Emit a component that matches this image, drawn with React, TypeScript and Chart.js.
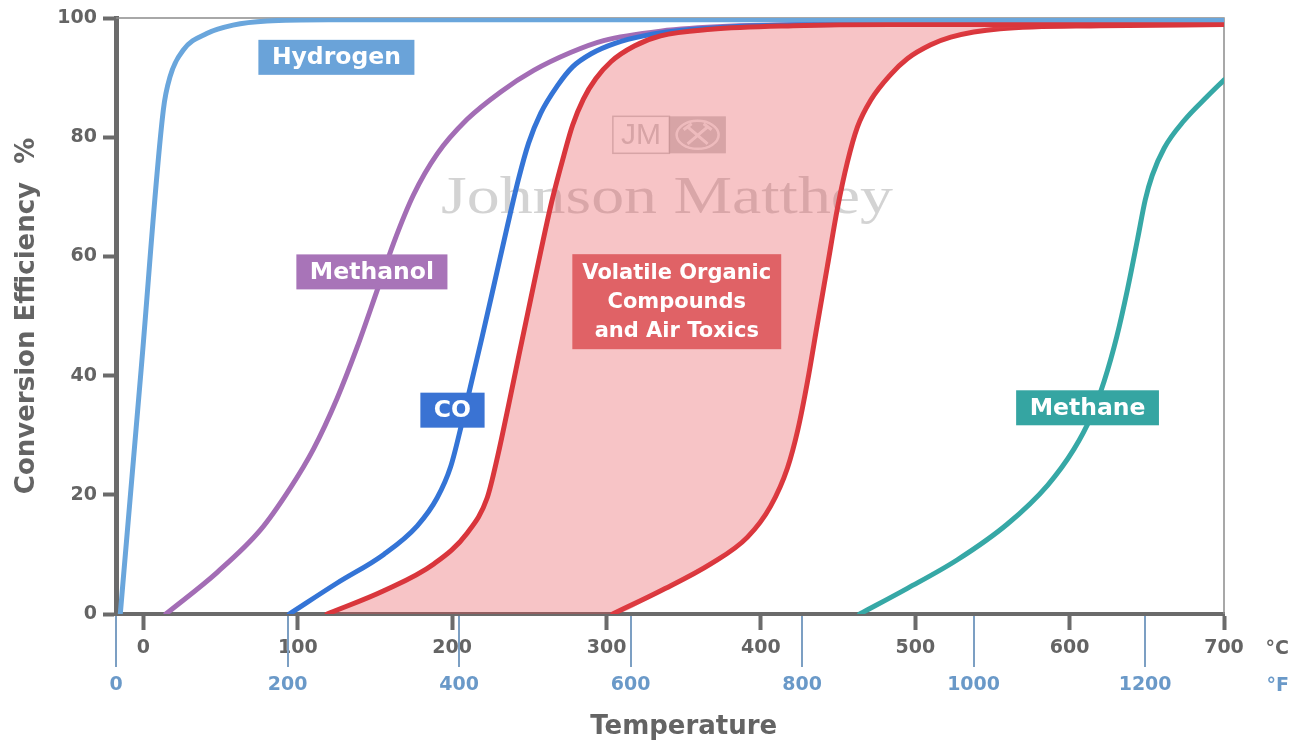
import React, { useEffect, useRef } from 'react';
import { Chart, registerables } from 'chart.js';

Chart.register(...registerables);

// ---------- axis ticks ----------
const C_TICKS = [0, 100, 200, 300, 400, 500, 600, 700];
const F_TICKS = [0, 200, 400, 600, 800, 1000, 1200];
const Y_TICKS = [0, 20, 40, 60, 80, 100];
const X_MIN_C = ((0 - 32) * 5) / 9; // 0 °F
const X_MAX_C = 700;
const F_MAX = (X_MAX_C * 9) / 5 + 32;

// ---------- series (temperature °C, conversion %) ----------
const HYDROGEN_T = [-15, -1.5, 12.9, 17.3, 25.7, 41, 58, 80, 120, 300, 500, 700];
const HYDROGEN_E = [0, 41, 84.6, 90.2, 94.6, 97.4, 98.8, 99.5, 99.7, 99.7, 99.7, 99.7];

const METHANOL_T = [14.5, 47.8, 75.8, 95.3, 110.2, 125.5, 138.5, 151, 162, 174.9, 190.3, 209.7, 231.4, 252.8, 276.7, 298.1, 335, 378.5, 450, 700];
const METHANOL_E = [0, 7.0, 14.1, 21.2, 27.7, 36.2, 44.8, 54.0, 62.2, 70.3, 77.2, 83.0, 87.6, 91.2, 94.2, 96.2, 97.8, 98.6, 98.9, 98.9];

const CO_T = [94.5, 125.5, 155.7, 177.4, 190.3, 199, 206, 212.5, 219.5, 227, 235.5, 243, 249.5, 257.3, 268.1, 278, 290, 305, 324, 356.4, 450, 700];
const CO_E = [0, 5.2, 10.0, 14.8, 19.5, 24.7, 31.7, 38.9, 46.6, 55.1, 64.8, 73.0, 79.0, 84.0, 88.6, 91.8, 94.0, 95.7, 97.0, 98.1, 98.9, 98.9];

const VOC_LOW_T = [119, 155.7, 188.1, 209.8, 222.7, 229.5, 236.5, 243.3, 251, 257.5, 264.5, 272.4, 278, 285, 293, 303, 318, 335, 367.5, 421, 484, 700];
const VOC_LOW_E = [0, 3.9, 8.4, 13.6, 19.5, 26.5, 35.0, 43.5, 53.0, 61.0, 69.2, 77.0, 82.0, 86.4, 89.8, 92.7, 95.3, 97.0, 98.1, 98.7, 98.9, 98.9];

const VOC_HIGH_T = [304, 335.1, 367.5, 391.3, 406.3, 417.2, 424, 430.1, 436.6, 443.1, 449.6, 456, 462.5, 471.1, 484, 495, 510, 523, 555, 620, 700];
const VOC_HIGH_E = [0, 3.9, 8.4, 12.9, 18.1, 24.5, 31.0, 38.9, 48.7, 58.4, 68.1, 75.8, 81.7, 86.2, 90.5, 93.2, 95.5, 96.8, 98.2, 98.7, 98.9];

const METHANE_T = [464, 494.9, 527.3, 559.7, 585.7, 602.9, 613.7, 622.4, 630.5, 637.5, 644, 649, 653.5, 661.3, 674.2, 689.4, 700];
const METHANE_E = [0, 4.3, 9.1, 15.1, 21.6, 27.7, 33.0, 39.1, 46.5, 54.5, 62.9, 69.5, 73.6, 78.2, 82.8, 86.9, 89.6];

// ---------- annotation labels ----------
const LABEL_TEXTS = ['Hydrogen', 'Methanol', 'CO', 'Volatile Organic\nCompounds\nand Air Toxics', 'Methane'];
const LABEL_T = [125, 148, 200.2, 345.5, 611.6];
const LABEL_E = [93.4, 57.4, 34.2, 52.4, 34.6];
const LABEL_COLORS = ['#6aa3d9', '#a874b8', '#3a73d3', '#e06266', '#35a5a2'];
const LABEL_SIZES = [23.5, 23.5, 23.5, 21, 23.5];

const WATERMARK = 'Johnson Matthey';
const WATERMARK_AT = [339.2, 67.3];
const LOGO_AT = [340.7, 80.4];

// ---------- styles ----------
const FONT = '"DejaVu Sans", "Liberation Sans", sans-serif';
const AXIS = '#6b6b6b';
const AXIS_TEXT = '#646464';
const F_COLOR = '#6a99c8';
const F_LINE = '#7c9fc3';

const pts = (xs: number[], ys: number[]) => xs.map((x, i) => ({ x, y: ys[i] }));

const decorPlugin = {
  id: 'decor',
  beforeDatasetsDraw(chart: any) {
    const { ctx, chartArea, scales } = chart;
    const { x, y } = scales;
    ctx.save();
    // thin frame top/right
    ctx.strokeStyle = '#8c8c8c';
    ctx.lineWidth = 1.5;
    ctx.beginPath();
    ctx.moveTo(chartArea.left, chartArea.top);
    ctx.lineTo(chartArea.right, chartArea.top);
    ctx.lineTo(chartArea.right, chartArea.bottom);
    ctx.stroke();

    // watermark text
    const wx = x.getPixelForValue(WATERMARK_AT[0]);
    const wy = y.getPixelForValue(WATERMARK_AT[1]);
    ctx.font = '53px "Liberation Serif", "DejaVu Serif", serif';
    const w = ctx.measureText(WATERMARK).width;
    ctx.save();
    ctx.translate(wx, wy);
    ctx.scale(452 / w, 1);
    ctx.fillStyle = 'rgba(150,150,150,0.42)';
    ctx.textAlign = 'center';
    ctx.textBaseline = 'alphabetic';
    ctx.fillText(WATERMARK, 0, 0);
    ctx.restore();

    // JM logo
    const lx = x.getPixelForValue(LOGO_AT[0]);
    const ly = y.getPixelForValue(LOGO_AT[1]);
    const bw = 113, bh = 37;
    const left = lx - bw / 2, top = ly - bh / 2;
    const g = 'rgba(140,140,140,0.42)';
    ctx.strokeStyle = g;
    ctx.lineWidth = 1.5;
    ctx.strokeRect(left, top, bw / 2, bh);
    ctx.fillStyle = g;
    ctx.fillRect(left + bw / 2, top, bw / 2, bh);
    ctx.font = '30px "Liberation Sans", sans-serif';
    ctx.textAlign = 'center';
    ctx.textBaseline = 'middle';
    ctx.fillText('JM', left + bw / 4, ly + 1);
    const ex = left + (3 * bw) / 4;
    ctx.strokeStyle = 'rgba(255,255,255,0.75)';
    ctx.lineWidth = 2.5;
    ctx.beginPath();
    ctx.ellipse(ex, ly, 21, 14, 0, 0, Math.PI * 2);
    ctx.stroke();
    ctx.lineWidth = 3;
    ctx.beginPath();
    ctx.moveTo(ex - 10, ly - 8); ctx.lineTo(ex + 10, ly + 9);
    ctx.moveTo(ex + 10, ly - 8); ctx.lineTo(ex - 10, ly + 9);
    ctx.moveTo(ex - 14, ly - 5); ctx.lineTo(ex - 6, ly - 11);
    ctx.moveTo(ex + 14, ly - 5); ctx.lineTo(ex + 6, ly - 11);
    ctx.stroke();
    ctx.restore();
  },
  afterDatasetsDraw(chart: any) {
    const { ctx, scales } = chart;
    const { x, y } = scales;
    ctx.save();
    LABEL_TEXTS.forEach((text, i) => {
      const lines = text.split('\n');
      const size = LABEL_SIZES[i];
      ctx.font = `bold ${size}px ${FONT}`;
      const tw = Math.max(...lines.map((l) => ctx.measureText(l).width));
      const lh = lines.length > 1 ? 29 : 35;
      const padX = lines.length > 1 ? 10 : 13.5;
      const padY = lines.length > 1 ? 4 : 0;
      const bw = tw + padX * 2;
      const bh = lh * lines.length + padY * 2;
      const cx = x.getPixelForValue(LABEL_T[i]);
      const cy = y.getPixelForValue(LABEL_E[i]);
      ctx.fillStyle = LABEL_COLORS[i];
      ctx.fillRect(cx - bw / 2, cy - bh / 2, bw, bh);
      ctx.fillStyle = '#ffffff';
      ctx.textAlign = 'center';
      ctx.textBaseline = 'middle';
      lines.forEach((l, j) => {
        ctx.fillText(l, cx, cy - bh / 2 + padY + lh * j + lh / 2 + 1);
      });
    });
    ctx.restore();
  },
  afterDraw(chart: any) {
    const { ctx, chartArea, scales } = chart;
    const x2 = scales.x2;
    const x = scales.x;
    ctx.save();
    ctx.strokeStyle = F_LINE;
    ctx.lineWidth = 2;
    F_TICKS.forEach((v) => {
      const px = Math.round(x2.getPixelForValue(v));
      ctx.beginPath();
      ctx.moveTo(px, chartArea.bottom + 2);
      ctx.lineTo(px, chartArea.bottom + 53);
      ctx.stroke();
    });
    ctx.font = `bold 19px ${FONT}`;
    ctx.textAlign = 'right';
    ctx.textBaseline = 'middle';
    ctx.fillStyle = AXIS_TEXT;
    ctx.fillText('°C', 1289, chartArea.bottom + 35);
    ctx.fillStyle = F_COLOR;
    ctx.fillText('°F', 1289, chartArea.bottom + 72);
    ctx.font = `bold 26px ${FONT}`;
    ctx.textAlign = 'center';
    ctx.fillStyle = AXIS_TEXT;
    ctx.fillText('Temperature', x.getPixelForValue(350), chart.height - 17);
    ctx.restore();
  },
};

export default function App() {
  const ref = useRef<HTMLCanvasElement>(null);
  useEffect(() => {
    const canvas = ref.current as HTMLCanvasElement;
    const tickFont = { family: FONT, size: 19, weight: 'bold' as const };
    const line = (data: any, color: string, extra: any = {}) => ({
      data,
      borderColor: color,
      backgroundColor: color,
      borderWidth: 5,
      pointRadius: 0,
      fill: false,
      cubicInterpolationMode: 'monotone' as const,
      ...extra,
    });
    const chart = new Chart(canvas, {
      type: 'line',
      data: {
        datasets: [
          line(pts(HYDROGEN_T, HYDROGEN_E), '#6aa6dc', { label: 'Hydrogen' }),
          line(pts(VOC_LOW_T, VOC_LOW_E), '#d9363c', {
            label: 'VOC (low)',
            fill: { target: 6 },
            backgroundColor: 'rgba(230,70,78,0.32)',
          }),
          line(pts(VOC_HIGH_T, VOC_HIGH_E), '#d9363c', { label: 'VOC (high)' }),
          line(pts(METHANE_T, METHANE_E), '#36a8a6', { label: 'Methane' }),
          line(pts(CO_T, CO_E), '#3474d6', { label: 'CO' }),
          line(pts(METHANOL_T, METHANOL_E), '#a36db5', { label: 'Methanol' }),
          line(pts([VOC_LOW_T[0], ...VOC_HIGH_T], [0, ...VOC_HIGH_E]), 'transparent', {
            label: 'VOC band edge',
            borderWidth: 0.01,
          }),
        ],
      },
      options: {
        responsive: false,
        animation: false,
        devicePixelRatio: 1,
        events: [],
        layout: { padding: { top: 18, right: 67, bottom: 0, left: 0 } },
        plugins: {
          legend: { display: false },
          tooltip: { enabled: false },
          title: { display: false },
        },
        elements: {
          point: { radius: 0 },
          line: { borderCapStyle: 'round', borderJoinStyle: 'round' },
        },
        scales: {
          x: {
            type: 'linear',
            position: 'bottom',
            weight: 0,
            min: X_MIN_C,
            max: X_MAX_C,
            afterBuildTicks: (s: any) => {
              s.ticks = C_TICKS.map((v) => ({ value: v }));
            },
            afterFit: (s: any) => {
              s.height = 44;
            },
            grid: { drawOnChartArea: false, drawTicks: true, tickLength: 16, tickWidth: 4, tickColor: AXIS },
            border: { display: true, color: AXIS, width: 4 },
            ticks: {
              font: tickFont,
              color: AXIS_TEXT,
              padding: 7,
              maxRotation: 0,
              autoSkip: false,
              callback: (v: any) => String(v),
            },
          },
          x2: {
            type: 'linear',
            position: 'bottom',
            weight: 1,
            min: 0,
            max: F_MAX,
            afterBuildTicks: (s: any) => {
              s.ticks = F_TICKS.map((v) => ({ value: v }));
            },
            afterFit: (s: any) => {
              s.height = 86;
            },
            grid: { display: false, drawTicks: false },
            border: { display: false },
            ticks: {
              font: tickFont,
              color: F_COLOR,
              padding: 16,
              maxRotation: 0,
              autoSkip: false,
              callback: (v: any) => String(v),
            },
          },
          y: {
            type: 'linear',
            min: 0,
            max: 100,
            afterBuildTicks: (s: any) => {
              s.ticks = Y_TICKS.map((v) => ({ value: v }));
            },
            afterFit: (s: any) => {
              s.width = 116;
            },
            grid: { drawOnChartArea: false, drawTicks: true, tickLength: 13, tickWidth: 4, tickColor: AXIS },
            border: { display: true, color: AXIS, width: 5 },
            ticks: { font: tickFont, color: AXIS_TEXT, padding: 6, callback: (v: any) => String(v) },
            title: {
              display: true,
              text: 'Conversion Efficiency  %',
              font: { family: FONT, size: 26, weight: 'bold' },
              color: AXIS_TEXT,
              padding: { top: 12, bottom: 0 },
            },
          },
        },
      } as any,
      plugins: [decorPlugin],
    });
    return () => chart.destroy();
  }, []);

  return (
    <div style={{ position: 'fixed', left: 0, top: 0, width: 1291, height: 744, background: '#ffffff' }}>
      <canvas ref={ref} width={1291} height={744} style={{ display: 'block' }} />
    </div>
  );
}
